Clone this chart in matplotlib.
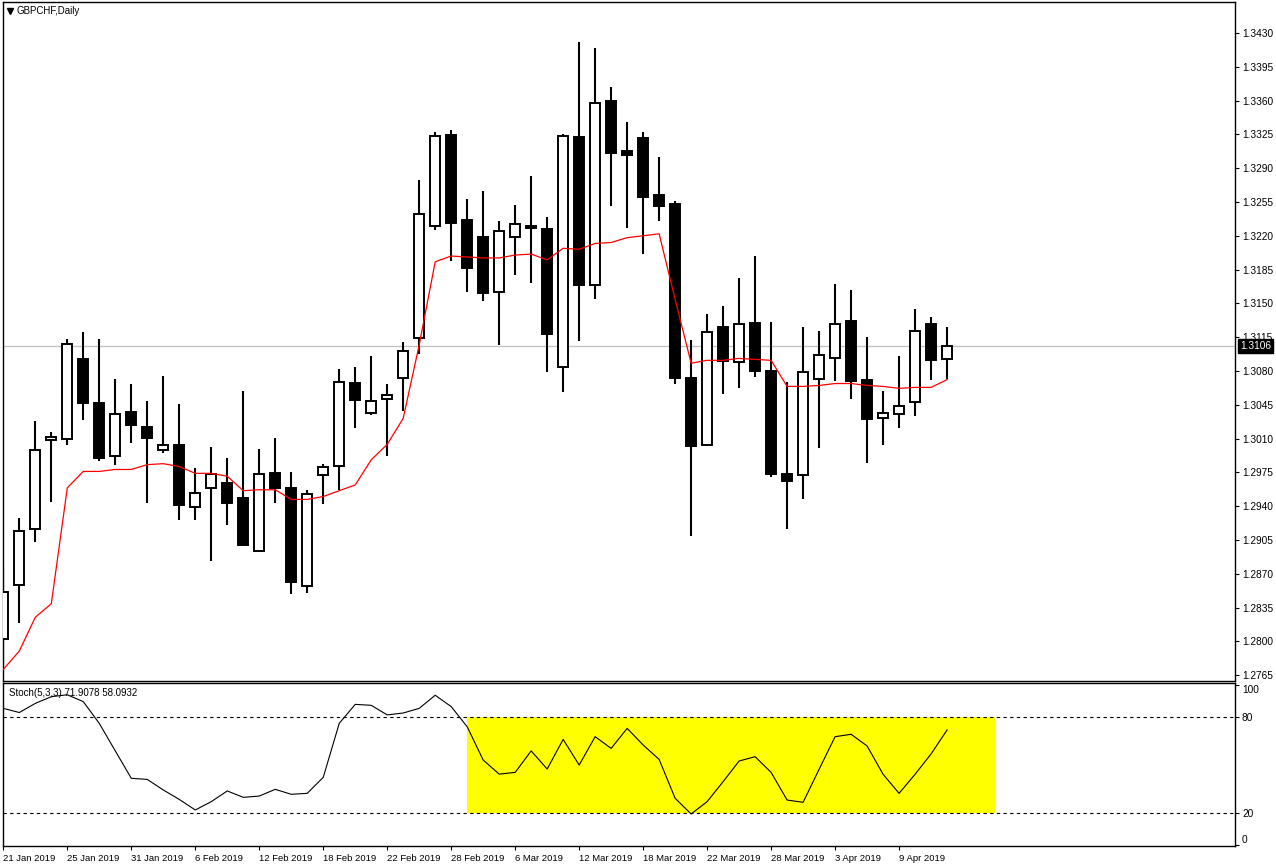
import numpy as np
import matplotlib.pyplot as plt
from matplotlib.patches import Rectangle

# ==========================================
# DATI (letti dal grafico GBPCHF Daily)
# ==========================================
opens = [1.2802, 1.2858, 1.2916, 1.3009, 1.3010, 1.3092, 1.3047, 1.2992, 1.3037, 1.3022,
         1.2998, 1.3003, 1.2939, 1.2959, 1.2964, 1.2948, 1.2894, 1.2974, 1.2959, 1.2857,
         1.2972, 1.2982, 1.3068, 1.3036, 1.3051, 1.3073, 1.3114, 1.3230, 1.3324, 1.3236,
         1.3219, 1.3162, 1.3219, 1.3230, 1.3227, 1.3084, 1.3322, 1.3169, 1.3359, 1.3308,
         1.3321, 1.3262, 1.3253, 1.3073, 1.3003, 1.3125, 1.3089, 1.3130, 1.3080, 1.2973,
         1.2972, 1.3072, 1.3093, 1.3132, 1.3071, 1.3031, 1.3035, 1.3048, 1.3129, 1.3092]
highs = [1.2876, 1.2928, 1.3028, 1.3017, 1.3113, 1.3120, 1.3113, 1.3072, 1.3066, 1.3049,
         1.3075, 1.3046, 1.2980, 1.3001, 1.2990, 1.3059, 1.2999, 1.3011, 1.2975, 1.2957,
         1.2984, 1.3082, 1.3084, 1.3096, 1.3067, 1.3110, 1.3278, 1.3327, 1.3329, 1.3258,
         1.3266, 1.3235, 1.3252, 1.3282, 1.3239, 1.3325, 1.3421, 1.3414, 1.3374, 1.3338,
         1.3327, 1.3302, 1.3256, 1.3112, 1.3139, 1.3147, 1.3176, 1.3199, 1.3131, 1.3069,
         1.3125, 1.3121, 1.3170, 1.3164, 1.3115, 1.3059, 1.3096, 1.3144, 1.3136, 1.3126]
lows = [1.2776, 1.2819, 1.2903, 1.2944, 1.3003, 1.3029, 1.2987, 1.2983, 1.3005, 1.2943,
        1.2995, 1.2926, 1.2926, 1.2883, 1.2921, 1.2899, 1.2893, 1.2943, 1.2849, 1.2850,
        1.2942, 1.2957, 1.3021, 1.3034, 1.2992, 1.3039, 1.3098, 1.3226, 1.3194, 1.3162,
        1.3152, 1.3107, 1.3179, 1.3171, 1.3079, 1.3058, 1.3111, 1.3155, 1.3251, 1.3228,
        1.3201, 1.3235, 1.3067, 1.2909, 1.3002, 1.3056, 1.3062, 1.3074, 1.2970, 1.2916,
        1.2947, 1.3000, 1.3070, 1.3051, 1.2985, 1.3003, 1.3021, 1.3033, 1.3071, 1.3072]
closes = [1.2851, 1.2914, 1.2998, 1.3012, 1.3108, 1.3047, 1.2990, 1.3035, 1.3024, 1.3011,
          1.3003, 1.2941, 1.2954, 1.2973, 1.2943, 1.2900, 1.2973, 1.2959, 1.2861, 1.2953,
          1.2981, 1.3069, 1.3050, 1.3049, 1.3055, 1.3101, 1.3242, 1.3323, 1.3233, 1.3187,
          1.3161, 1.3225, 1.3232, 1.3228, 1.3118, 1.3323, 1.3169, 1.3357, 1.3306, 1.3304,
          1.3260, 1.3251, 1.3073, 1.3002, 1.3120, 1.3090, 1.3129, 1.3080, 1.2973, 1.2966,
          1.3079, 1.3097, 1.3129, 1.3070, 1.3030, 1.3036, 1.3044, 1.3121, 1.3091, 1.3106]

# media mobile (linea rossa)
ma_vals = [1.2771, 1.2790, 1.2825, 1.2839, 1.2959, 1.2976, 1.2976, 1.2978, 1.2978, 1.2983,
           1.2984, 1.2981, 1.2974, 1.2974, 1.2971, 1.2956, 1.2957, 1.2957, 1.2947, 1.2947,
           1.2950, 1.2956, 1.2962, 1.2988, 1.3004, 1.3031, 1.3107, 1.3193, 1.3199, 1.3198,
           1.3197, 1.3197, 1.3200, 1.3201, 1.3195, 1.3207, 1.3206, 1.3212, 1.3213, 1.3218,
           1.3220, 1.3222, 1.3154, 1.3088, 1.3091, 1.3091, 1.3093, 1.3092, 1.3091, 1.3064,
           1.3064, 1.3065, 1.3067, 1.3067, 1.3065, 1.3064, 1.3062, 1.3063, 1.3063, 1.3071]

# Stocastico %K
stoch_k = [85.4, 82.8, 88.5, 92.7, 93.9, 89.6, 76.0, 58.8, 41.7, 41.0,
           34.4, 28.5, 21.9, 27.1, 33.8, 29.8, 30.6, 34.8, 31.7, 32.3,
           42.3, 76.0, 87.9, 87.3, 81.3, 82.5, 85.4, 93.6, 86.5, 73.9,
           53.1, 44.3, 45.4, 58.8, 47.5, 66.0, 50.0, 67.7, 60.4, 72.9,
           62.5, 53.5, 29.2, 19.4, 27.1, 39.6, 52.5, 55.2, 45.4, 28.1,
           26.7, 47.3, 67.7, 69.2, 61.9, 44.2, 32.3, 44.2, 56.9, 71.9]

date_idx = [0, 4, 8, 12, 16, 20, 24, 28, 32, 36, 40, 44, 48, 52, 56]
date_labels = ['21 Jan 2019', '25 Jan 2019', '31 Jan 2019', '6 Feb 2019', '12 Feb 2019',
               '18 Feb 2019', '22 Feb 2019', '28 Feb 2019', '6 Mar 2019', '12 Mar 2019',
               '18 Mar 2019', '22 Mar 2019', '28 Mar 2019', '3 Apr 2019', '9 Apr 2019']
price_ticks = [1.3430, 1.3395, 1.3360, 1.3325, 1.3290, 1.3255, 1.3220, 1.3185, 1.3150,
               1.3115, 1.3080, 1.3045, 1.3010, 1.2975, 1.2940, 1.2905, 1.2870, 1.2835,
               1.2800, 1.2765]
last_price = 1.3106

# ==========================================
# FIGURA
# ==========================================
plt.rcParams['font.family'] = ['Liberation Sans', 'DejaVu Sans']
W, H = 1276, 867
fig = plt.figure(figsize=(W / 100, H / 100), dpi=100)
fig.patch.set_facecolor('white')

def px_axes(x0, y0, x1, y1):
    return fig.add_axes([x0 / W, 1 - y1 / H, (x1 - x0) / W, (y1 - y0) / H])

ax1 = px_axes(3, 2, 1235, 681)
ax2 = px_axes(3, 683, 1235, 845.5)

x = np.arange(len(opens))
xmax = (1235 - 3) / 16

# --- candele ---
o = np.array(opens); c = np.array(closes)
up = c >= o
body_lo = np.minimum(o, c)
body_h = np.maximum(np.abs(c - o), 0.00005)
ax1.vlines(x, lows, highs, color='black', lw=1.5, zorder=2)
ax1.bar(x[up], body_h[up], bottom=body_lo[up], width=0.62, facecolor='white',
        edgecolor='black', linewidth=1.4, zorder=3)
ax1.bar(x[~up], body_h[~up], bottom=body_lo[~up], width=0.62, facecolor='black',
        edgecolor='black', linewidth=1.4, zorder=3)

ax1.plot(x, ma_vals, color='red', lw=0.9, zorder=4)
ax1.axhline(last_price, color='#c0c0c0', lw=0.9, zorder=1)

ax1.set_xlim(-0.02, xmax)
ax1.set_ylim(1.2759, 1.3462)
ax1.yaxis.tick_right()
ax1.set_yticks(price_ticks)
ax1.set_yticklabels([f'{p:.4f}' for p in price_ticks])
ax1.tick_params(axis='y', direction='out', length=3, labelsize=7.3, pad=2)
ax1.set_xticks([])
for s in ax1.spines.values():
    s.set_linewidth(1.0)

ax1.annotate(f'{last_price:.4f}', xy=(1.0, last_price), xycoords=ax1.get_yaxis_transform(),
             xytext=(3.5, 0), textcoords='offset points', ha='left', va='center',
             fontsize=7.3, color='white', zorder=10, annotation_clip=False,
             bbox=dict(boxstyle='square,pad=0.2', facecolor='black', edgecolor='black'))

ax1.plot([0.0057], [0.987], marker='v', ms=4, color='black', transform=ax1.transAxes,
         clip_on=False)
ax1.text(0.011, 0.987, 'GBPCHF,Daily', transform=ax1.transAxes, fontsize=7,
         ha='left', va='center')

# --- stocastico ---
ax2.add_patch(Rectangle((29.0, 20), 62.0 - 29.0, 60, facecolor='#ffff00',
                        edgecolor='none', zorder=1))
ax2.axhline(80, color='black', lw=0.8, ls=(0, (3, 3)), zorder=2)
ax2.axhline(20, color='black', lw=0.8, ls=(0, (3, 3)), zorder=2)
ax2.plot(x, stoch_k, color='black', lw=0.8, zorder=3)

ax2.set_xlim(-0.02, xmax)
ax2.set_ylim(-0.3, 101.25)
ax2.yaxis.tick_right()
ax2.set_yticks([0, 20, 80, 100])
ax2.set_yticklabels(['0', '20', '80', '100'])
ax2.tick_params(axis='y', direction='out', length=3, labelsize=7.3, pad=2)
labs = ax2.get_yticklabels()
labs[0].set_va('bottom')
labs[3].set_va('top')
ax2.set_xticks(date_idx)
ax2.set_xticklabels(date_labels, ha='left')
ax2.tick_params(axis='x', direction='out', length=3, labelsize=6.8, pad=3)
for s in ax2.spines.values():
    s.set_linewidth(1.0)

ax2.text(0.005, 0.94, 'Stoch(5,3,3) 71.9078 58.0932', transform=ax2.transAxes,
         fontsize=7, ha='left', va='center')

plt.savefig('out.png', dpi=100)
plt.close()
